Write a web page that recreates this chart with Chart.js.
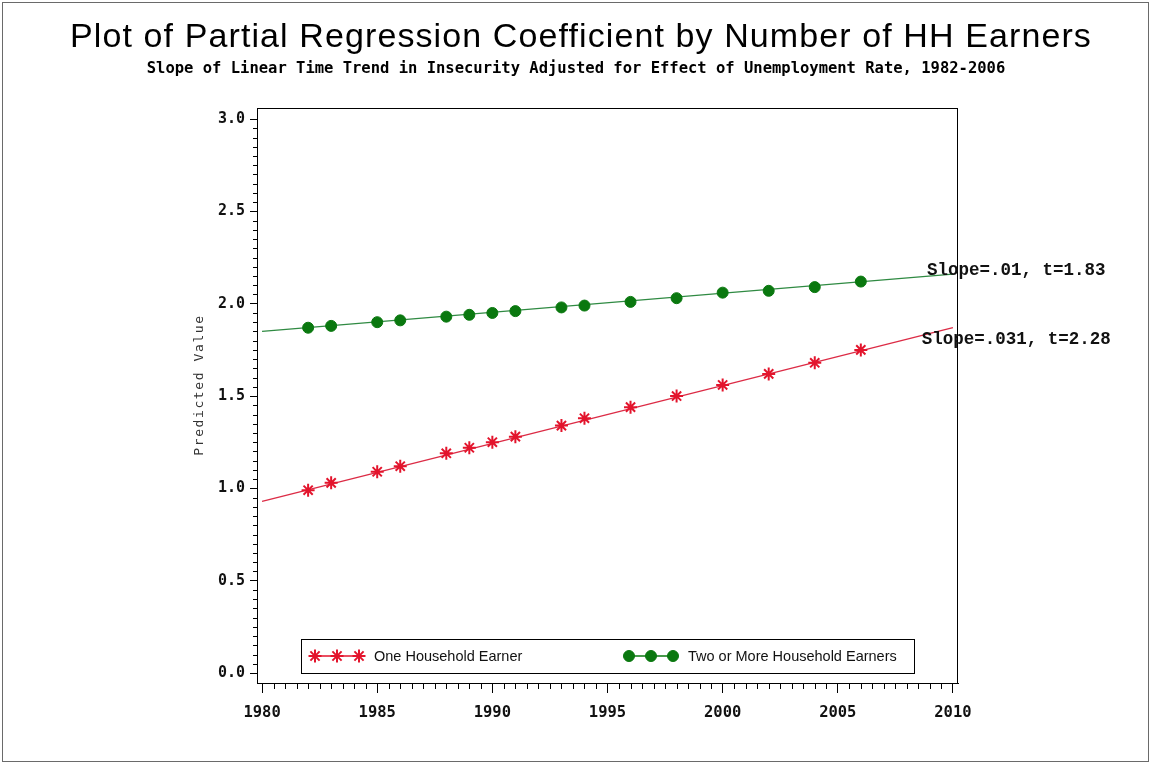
<!DOCTYPE html>
<html lang="en">
<head>
    <meta charset="UTF-8">
    <title>Partial Regression Coefficient by Number of HH Earners</title>
    <script src="https://cdn.jsdelivr.net/npm/chart.js@4.4.0/dist/chart.umd.min.js"></script>
    <style>
        html, body { margin: 0; padding: 0; background: #fff; }
        canvas { display: block; }
    </style>
</head>
<body>
    <canvas id="graphique" width="1152" height="764"></canvas>

    <script>
        // Predicted values per survey year
        const years = [1982, 1983, 1985, 1986, 1988, 1989, 1990, 1991, 1993, 1994, 1996, 1998, 2000, 2002, 2004, 2006];
        const oneEarner = [0.99, 1.03, 1.09, 1.12, 1.19, 1.22, 1.25, 1.28, 1.34, 1.38, 1.44, 1.50, 1.56, 1.62, 1.68, 1.75];
        const twoEarners = [1.87, 1.88, 1.90, 1.91, 1.93, 1.94, 1.95, 1.96, 1.98, 1.99, 2.01, 2.03, 2.06, 2.07, 2.09, 2.12];

        // Fitted trend lines, end points
        const trendYears = [1980, 2010];
        const oneTrend = [0.93, 1.87];
        const twoTrend = [1.85, 2.16];

        const seriesLabels = ['One Household Earner', 'Two or More Household Earners'];
        const slopeNotes = ['Slope=.01, t=1.83', 'Slope=.031, t=2.28'];

        const mainTitle = 'Plot of Partial Regression Coefficient by Number of HH Earners';
        const subTitle = 'Slope of Linear Time Trend in Insecurity Adjusted for Effect of Unemployment Rate, 1982-2006';
        const yTitle = 'Predicted Value';

        const RED = '#e3142c';
        const RED_LINE = '#dc2b45';
        const GREEN = '#0a780f';
        const GREEN_LINE = '#2f8a42';

        const MONO = "'DejaVu Sans Mono', monospace";
        const SANS = "'Liberation Sans', Arial, sans-serif";

        const toXY = (xs, ys) => xs.map((x, i) => ({ x: x, y: ys[i] }));

        // titles, frame, minor ticks, slope notes and the boxed legend
        const extras = {
            id: 'extras',
            afterDraw(chart, args, opts) {
                const { ctx, chartArea: a, scales: { x, y } } = chart;
                ctx.save();

                // outer border
                ctx.strokeStyle = '#6a6a6a';
                ctx.lineWidth = 1;
                ctx.strokeRect(2.5, 2.5, chart.width - 6, chart.height - 5);

                // titles
                const cx = chart.width / 2;
                ctx.fillStyle = '#000';
                ctx.textAlign = 'center';
                ctx.textBaseline = 'alphabetic';
                ctx.font = '34px ' + SANS;
                ctx.letterSpacing = '1.1px';
                ctx.fillText(mainTitle, cx + 5, 47);
                ctx.font = 'bold 15.5px ' + MONO;
                ctx.letterSpacing = '0px';
                ctx.fillText(subTitle, cx, 73);

                // y axis title
                ctx.save();
                ctx.translate(200, 385);
                ctx.rotate(-Math.PI / 2);
                ctx.fillStyle = '#333';
                ctx.font = '13px ' + MONO;
                ctx.letterSpacing = '1.6px';
                ctx.textBaseline = 'middle';
                ctx.fillText(yTitle, 0, 0);
                ctx.restore();
                ctx.letterSpacing = '0px';

                // plot frame
                ctx.strokeStyle = '#000';
                ctx.strokeRect(Math.round(a.left) + 0.5, Math.round(a.top) + 0.5,
                    Math.round(a.right - a.left) - 1, Math.round(a.bottom - a.top));

                // minor ticks
                ctx.beginPath();
                for (let v = 1980; v <= 2010.001; v += 0.5) {
                    if (Math.abs(v % 5) < 1e-6) continue;
                    const px = Math.round(x.getPixelForValue(v)) + 0.5;
                    ctx.moveTo(px, a.bottom);
                    ctx.lineTo(px, a.bottom + 6);
                }
                for (let k = 0; k <= 60; k++) {
                    if (k % 10 === 0) continue;
                    const py = Math.round(y.getPixelForValue(k * 0.05)) + 0.5;
                    ctx.moveTo(a.left, py);
                    ctx.lineTo(a.left - 4, py);
                }
                ctx.stroke();

                // slope notes
                ctx.fillStyle = '#111';
                ctx.font = "bold 17.5px 'Liberation Mono', monospace";
                ctx.textAlign = 'center';
                ctx.textBaseline = 'alphabetic';
                opts.notes.forEach((n, i) => {
                    ctx.fillText(slopeNotes[i], x.getPixelForValue(n.x), y.getPixelForValue(n.y));
                });

                // legend box
                const lg = opts.legend;
                const bx = a.left + lg.inset;
                const bw = a.right - a.left - 2 * lg.inset;
                const by = a.bottom - lg.bottom - lg.height;
                ctx.fillStyle = '#fff';
                ctx.fillRect(bx, by, bw, lg.height);
                ctx.strokeStyle = '#000';
                ctx.strokeRect(Math.round(bx) + 0.5, Math.round(by) + 0.5, Math.round(bw), lg.height);

                const cy = by + lg.height / 2;
                [0, 1].forEach(i => {
                    const ds = chart.data.datasets[i];
                    const x0 = bx + lg.items[i];
                    ctx.strokeStyle = ds.borderColor;
                    ctx.lineWidth = 1.3;
                    ctx.beginPath();
                    ctx.moveTo(x0, cy);
                    ctx.lineTo(x0 + 2 * lg.gap, cy);
                    ctx.stroke();
                    for (let m = 0; m < 3; m++) {
                        ctx.fillStyle = ds.backgroundColor;
                        ctx.strokeStyle = ds.borderColor;
                        ctx.lineWidth = ds.pointBorderWidth;
                        Chart.helpers.drawPoint(ctx, {
                            pointStyle: ds.pointStyle,
                            radius: ds.pointRadius,
                            borderWidth: ds.pointBorderWidth,
                            rotation: 0
                        }, x0 + m * lg.gap, cy);
                    }
                    ctx.fillStyle = '#111';
                    ctx.font = '14.5px ' + SANS;
                    ctx.textAlign = 'left';
                    ctx.textBaseline = 'middle';
                    ctx.fillText(ds.label, x0 + 2 * lg.gap + 15, cy + 1);
                });

                ctx.restore();
            }
        };

        const ctx = document.getElementById('graphique').getContext('2d');

        new Chart(ctx, {
            type: 'scatter',
            data: {
                datasets: [{
                    label: seriesLabels[0],
                    data: toXY(years, oneEarner),
                    showLine: false,
                    pointStyle: 'star',
                    pointRadius: 6.5,
                    pointBorderWidth: 2,
                    borderColor: RED,
                    backgroundColor: RED,
                    order: 0
                }, {
                    label: seriesLabels[1],
                    data: toXY(years, twoEarners),
                    showLine: false,
                    pointStyle: 'circle',
                    pointRadius: 5.5,
                    pointBorderWidth: 1,
                    borderColor: GREEN,
                    backgroundColor: GREEN,
                    order: 0
                }, {
                    label: 'trend one',
                    data: toXY(trendYears, oneTrend),
                    showLine: true,
                    pointRadius: 0,
                    borderColor: RED_LINE,
                    borderWidth: 1.3,
                    order: 1
                }, {
                    label: 'trend two',
                    data: toXY(trendYears, twoTrend),
                    showLine: true,
                    pointRadius: 0,
                    borderColor: GREEN_LINE,
                    borderWidth: 1.3,
                    order: 1
                }]
            },
            options: {
                responsive: false,
                animation: false,
                devicePixelRatio: 1,
                layout: { padding: { left: 0, right: 194, top: 108, bottom: 0 } },
                plugins: {
                    legend: { display: false },
                    tooltip: { enabled: false },
                    title: { display: false },
                    extras: {
                        notes: [{ x: 2012.75, y: 2.155 }, { x: 2012.75, y: 1.78 }],
                        legend: { inset: 44, bottom: 10, height: 34, gap: 22, items: [14, 328] }
                    }
                },
                scales: {
                    x: {
                        type: 'linear',
                        min: 1979.78,
                        max: 2010.22,
                        afterFit: s => { s.height = 81; },
                        grid: { display: true, drawOnChartArea: false, tickLength: 10, color: '#000', tickColor: '#000' },
                        border: { display: true, color: '#000' },
                        ticks: {
                            stepSize: 5,
                            includeBounds: false,
                            autoSkip: false,
                            maxRotation: 0,
                            padding: 11,
                            color: '#111',
                            font: { family: MONO, size: 15.5, weight: 'bold' },
                            callback: v => String(v)
                        }
                    },
                    y: {
                        type: 'linear',
                        min: -0.054,
                        max: 3.06,
                        afterFit: s => { s.width = 257; },
                        grid: { display: true, drawOnChartArea: false, tickLength: 7, color: '#000', tickColor: '#000' },
                        border: { display: true, color: '#000' },
                        ticks: {
                            stepSize: 0.5,
                            includeBounds: false,
                            padding: 5,
                            color: '#111',
                            font: { family: MONO, size: 15, weight: 'bold' },
                            callback: v => v.toFixed(1)
                        }
                    }
                }
            },
            plugins: [extras]
        });
    </script>
</body>
</html>
